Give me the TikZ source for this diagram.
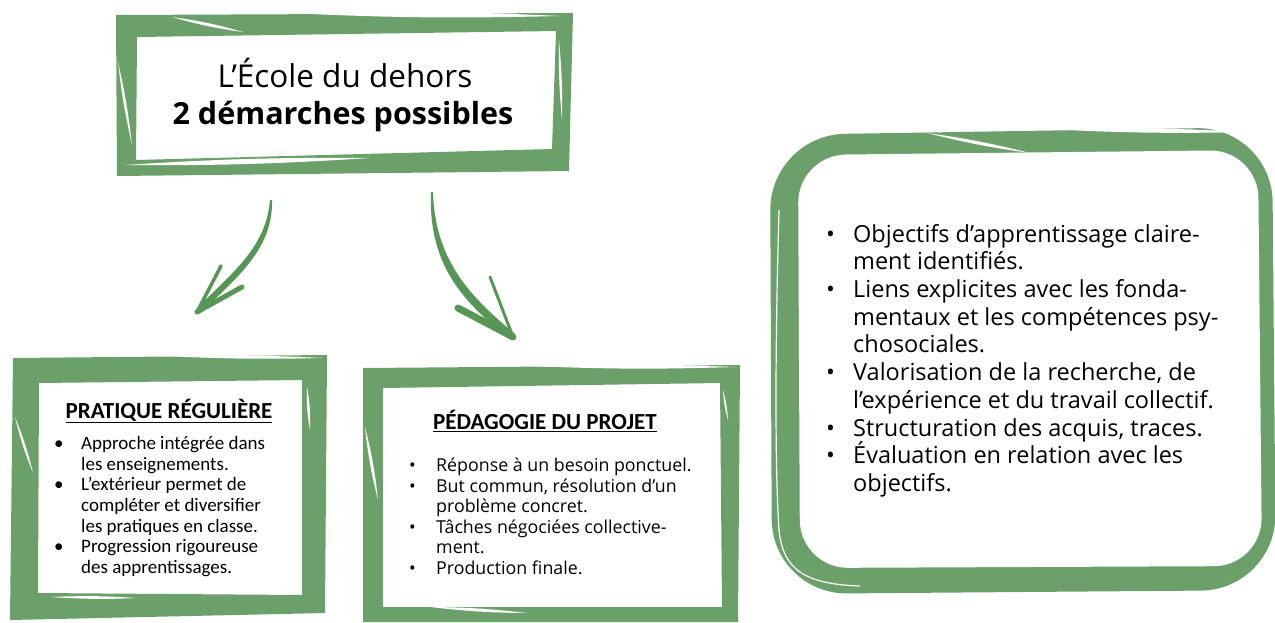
\documentclass[tikz,border=0pt]{standalone}
\usepackage{fontspec}
\setmainfont{Open Sans}
\newfontfamily\calib{Carlito}
\definecolor{framec}{RGB}{108,160,106}
\definecolor{arrowc}{RGB}{88,150,88}
\newcommand\bul[1]{\makebox[#1][l]{•}}
\newcommand\ind[1]{\hspace*{#1}}
\tikzset{
  brush/.style={fill=framec, even odd rule},
  gap/.style={fill=white},
  arr/.style={fill=arrowc},
  barb/.style={draw=arrowc, line cap=round},
  txt/.style={inner sep=0pt, align=left, anchor=north west},
}
\begin{document}
\begin{tikzpicture}[x=1pt,y=-1pt]
\useasboundingbox[fill=white] (0,0) rectangle (1275,622);

% ---------- top frame ----------
\fill[brush] (116,15) -- (573,13) -- (569,171) -- (117,176) -- cycle
             (137,37) -- (556,31) -- (552,149) -- (136,160) -- cycle;
\fill[gap] (118,62) to[bend left=3] (132,145) to[bend left=3] (118,62);
\fill[gap] (172,17) to[bend left=4] (243,32) to[bend left=4] (172,17);
\fill[gap] (288,13) to[bend right=2] (560,16) to[bend right=2] (288,13);
\fill[gap] (125,165) to[bend left=2] (370,158) to[bend left=2] (125,165);
\fill[gap] (559,40) to[bend left=3] (562,120) to[bend left=3] (559,40);

% ---------- left frame ----------
\fill[brush] (13,358) -- (327,355) -- (325,613) -- (10,620) -- cycle
             (39,383) -- (302,380) -- (302,595) -- (38,593) -- cycle;
\fill[gap] (15,417) to[bend left=4] (33,473) to[bend left=4] (15,417);
\fill[gap] (307,387) to[bend left=6] (310,430) to[bend left=6] (307,387);
\fill[gap] (165,356) to[bend right=2] (322,358) to[bend right=2] (165,356);
\fill[gap] (50,597) to[bend left=3] (137,598) to[bend left=3] (50,597);

% ---------- middle frame ----------
\fill[brush] (363,368) -- (740,365) -- (738,622) -- (363,622) -- cycle
             (383,388) -- (720,383) -- (722,607) -- (383,607) -- cycle;
\fill[gap] (365,427) to[bend left=4] (378,500) to[bend left=4] (365,427);
\fill[gap] (723,390) to[bend left=6] (728,420) to[bend left=6] (723,390);
\fill[gap] (430,607) to[bend left=3] (527,613) to[bend left=3] (430,607);
\fill[gap] (530,366) to[bend right=2] (735,367) to[bend right=2] (530,366);

% ---------- right frame ----------
\fill[framec, rounded corners=75] (770,135) -- (1272,127) -- (1276,590) -- (772,594) -- cycle;
\fill[white, rounded corners=48] (798,155) -- (1258,150) -- (1262,566) -- (800,568) -- cycle;
\draw[white, line width=1.2] (779,210) .. controls (775,350) and (775,470) .. (779,530)
      .. controls (783,570) and (805,584) .. (860,586);
\fill[gap] (927,133) to[bend left=3] (1030,153) to[bend left=3] (927,133);
\fill[gap] (1045,129) to[bend right=2] (1250,132) to[bend right=2] (1045,129);

% ---------- arrows ----------
\fill[arr] (270,200) .. controls (266,245) and (238,268) .. (196,309)
        -- (199,314) .. controls (243,273) and (273,246) .. (272,200) -- cycle;
\draw[barb, line width=3.5] (197,312) -- (221,266);
\draw[barb, line width=5] (197,312) -- (242,287);
\fill[arr] (431,192) .. controls (428,268) and (466,304) .. (511,340)
        -- (515,334) .. controls (472,298) and (435,262) .. (433,192) -- cycle;
\draw[barb, line width=3] (513,337) -- (490,277);
\draw[barb, line width=7] (513,337) -- (458,308);

% ---------- texts ----------
\node[inner sep=0pt, anchor=base, font=\fontsize{31.5}{37}\selectfont] (title1) at (345,87)
  {L’École du dehors};
\node[inner sep=0pt, anchor=base, font=\bfseries\fontsize{30.5}{37}\selectfont] (title2) at (343,124)
  {2 démarches possibles};

\node[inner sep=0pt, font=\calib\bfseries\fontsize{23}{26}\selectfont] (h1) at (169,411)
  {\underline{PRATIQUE RÉGULIÈRE}};
\node[txt, font=\calib\fontsize{19}{20.7}\selectfont] (l1) at (54,436)
  {\bul{27pt}Approche intégrée dans\\
   \ind{27pt}les enseignements.\\
   \bul{27pt}L’extérieur permet de\\
   \ind{27pt}compléter et diversifier\\
   \ind{27pt}les pratiques en classe.\\
   \bul{27pt}Progression rigoureuse\\
   \ind{27pt}des apprentissages.};

\node[inner sep=0pt, font=\calib\bfseries\fontsize{23}{26}\selectfont] (h2) at (545,421)
  {\underline{PÉDAGOGIE DU PROJET}};
\node[txt, font=\fontsize{17.8}{20.5}\selectfont] (l2) at (409,458)
  {\bul{27pt}Réponse à un besoin ponctuel.\\
   \bul{27pt}But commun, résolution d’un\\
   \ind{27pt}problème concret.\\
   \bul{27pt}Tâches négociées collective-\\
   \ind{27pt}ment.\\
   \bul{27pt}Production finale.};

\node[txt, font=\fontsize{23.5}{27.7}\selectfont] (l3) at (826,224)
  {\bul{27pt}Objectifs d’apprentissage claire-\\
   \ind{27pt}ment identifiés.\\
   \bul{27pt}Liens explicites avec les fonda-\\
   \ind{27pt}mentaux et les compétences psy-\\
   \ind{27pt}chosociales.\\
   \bul{27pt}Valorisation de la recherche, de\\
   \ind{27pt}l’expérience et du travail collectif.\\
   \bul{27pt}Structuration des acquis, traces.\\
   \bul{27pt}Évaluation en relation avec les\\
   \ind{27pt}objectifs.};
\end{tikzpicture}
\end{document}
